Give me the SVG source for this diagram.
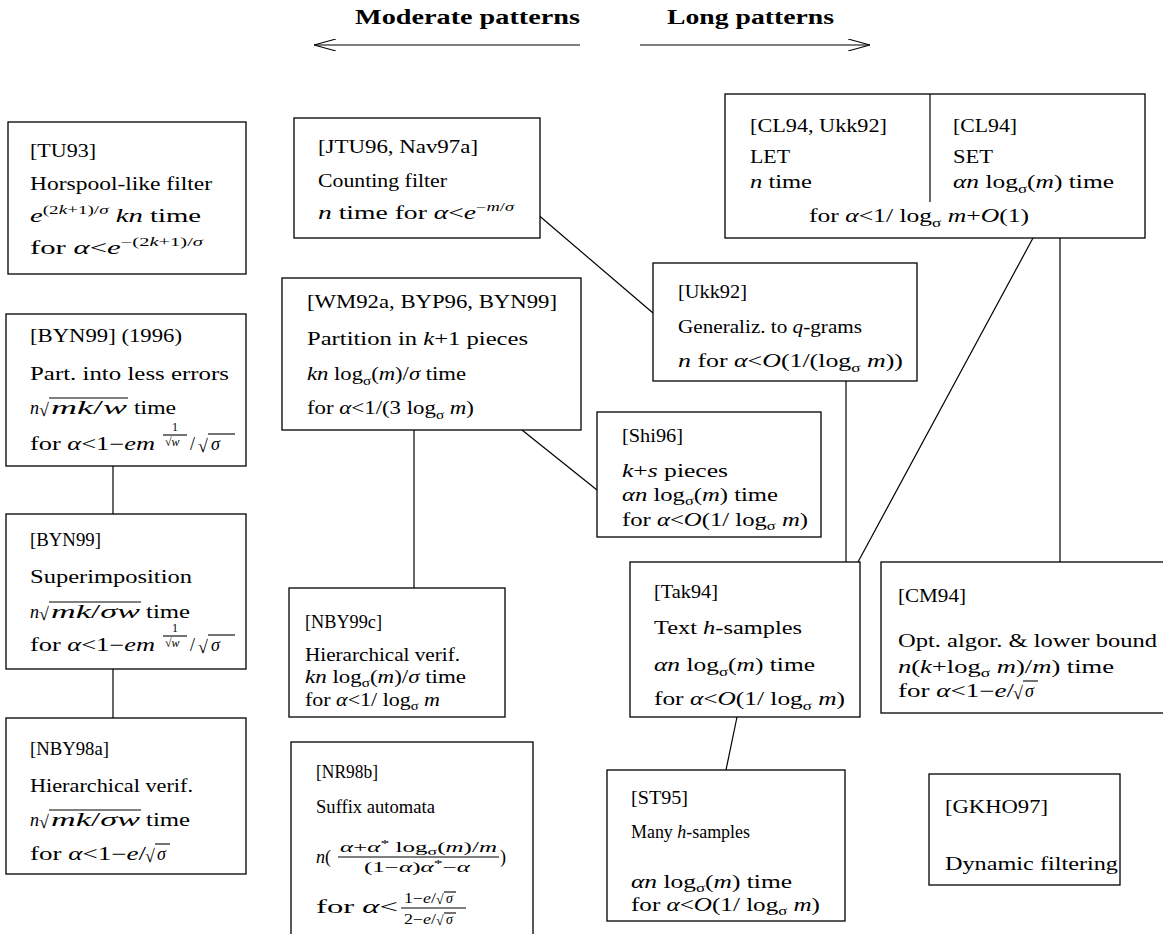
<svg xmlns="http://www.w3.org/2000/svg" width="1163" height="934" viewBox="0 0 1163 934">
<style>
text{font-family:"Liberation Serif",serif;font-size:18px;fill:#000}
.i{font-style:italic}
.sup{font-size:12px}
.sub{font-size:12px}
.sm{font-size:14px}
.h{font-weight:bold;font-size:20px}
.box{fill:#fff;stroke:#000;stroke-width:1.3}
.ln{stroke:#000;stroke-width:1.2;fill:none}
.vin{stroke:#000;stroke-width:1.1}
</style>
<defs>
<marker id="open" viewBox="0 0 22 12" refX="22" refY="6" markerWidth="22" markerHeight="12" markerUnits="userSpaceOnUse" orient="auto">
<path d="M0,0 L22,6 L0,12" fill="none" stroke="#000" stroke-width="1.1"/>
</marker>
</defs>
<rect width="1163" height="934" fill="#fff"/>

<g id="header">
<text class="h" x="355" y="24" textLength="225" lengthAdjust="spacingAndGlyphs">Moderate patterns</text>
<text class="h" x="667" y="24" textLength="167" lengthAdjust="spacingAndGlyphs">Long patterns</text>
<line class="ln" x1="580" y1="45" x2="314" y2="45" marker-end="url(#open)"/>
<line class="ln" x1="640" y1="45" x2="870" y2="45" marker-end="url(#open)"/>
</g>

<g id="connectors">
<line class="ln" x1="536" y1="213" x2="653" y2="313"/>
<line class="ln" x1="1033" y1="238" x2="858" y2="562"/>
<line class="ln" x1="1060" y1="238" x2="1060" y2="562"/>
<line class="ln" x1="846" y1="381" x2="846" y2="562"/>
<line class="ln" x1="522" y1="430" x2="597" y2="490"/>
<line class="ln" x1="414" y1="430" x2="414" y2="588"/>
<line class="ln" x1="113" y1="466" x2="113" y2="514"/>
<line class="ln" x1="113" y1="669" x2="113" y2="718"/>
<line class="ln" x1="737" y1="717" x2="726" y2="770"/>
</g>

<g id="TU93">
<rect class="box" x="8" y="122" width="238" height="152"/>
<text x="30" y="157" textLength="66" lengthAdjust="spacingAndGlyphs">[TU93]</text>
<text x="30" y="190" textLength="182" lengthAdjust="spacingAndGlyphs">Horspool-like filter</text>
<text x="30" y="222" textLength="171" lengthAdjust="spacingAndGlyphs"><tspan class="i">e</tspan><tspan class="sup" dy="-8">(2</tspan><tspan class="sup i">k</tspan><tspan class="sup">+1)/</tspan><tspan class="sup i">σ</tspan><tspan dy="8"> </tspan><tspan class="i">kn</tspan> time</text>
<text x="30" y="254" textLength="173" lengthAdjust="spacingAndGlyphs">for <tspan class="i">α</tspan>&lt;<tspan class="i">e</tspan><tspan class="sup" dy="-8">−(2</tspan><tspan class="sup i">k</tspan><tspan class="sup">+1)/</tspan><tspan class="sup i">σ</tspan></text>
</g>

<g id="JTU96">
<rect class="box" x="294" y="118" width="246" height="120"/>
<text x="318" y="153" textLength="160" lengthAdjust="spacingAndGlyphs">[JTU96, Nav97a]</text>
<text x="318" y="187" textLength="129" lengthAdjust="spacingAndGlyphs">Counting filter</text>
<text x="318" y="219" textLength="196" lengthAdjust="spacingAndGlyphs"><tspan class="i">n</tspan> time for <tspan class="i">α</tspan>&lt;<tspan class="i">e</tspan><tspan class="sup" dy="-8">−</tspan><tspan class="sup i">m</tspan><tspan class="sup">/</tspan><tspan class="sup i">σ</tspan></text>
</g>

<g id="CL94">
<rect class="box" x="725" y="94" width="420" height="144"/>
<line class="ln" x1="930" y1="94" x2="930" y2="202"/>
<text x="750" y="132" textLength="137" lengthAdjust="spacingAndGlyphs">[CL94, Ukk92]</text>
<text x="750" y="163" textLength="40" lengthAdjust="spacingAndGlyphs">LET</text>
<text x="750" y="188" textLength="62" lengthAdjust="spacingAndGlyphs"><tspan class="i">n</tspan> time</text>
<text x="953" y="132" textLength="64" lengthAdjust="spacingAndGlyphs">[CL94]</text>
<text x="953" y="163" textLength="40" lengthAdjust="spacingAndGlyphs">SET</text>
<text x="953" y="188" textLength="161" lengthAdjust="spacingAndGlyphs"><tspan class="i">αn</tspan> log<tspan class="sub" dy="5">σ</tspan><tspan dy="-5">(</tspan><tspan class="i">m</tspan>) time</text>
<text x="809" y="222" textLength="220" lengthAdjust="spacingAndGlyphs">for <tspan class="i">α</tspan>&lt;1/ log<tspan class="sub" dy="5">σ</tspan><tspan dy="-5"> </tspan><tspan class="i">m</tspan>+<tspan class="i">O</tspan>(1)</text>
</g>

<g id="WM92a">
<rect class="box" x="282" y="278" width="299" height="152"/>
<text x="307" y="308" textLength="250" lengthAdjust="spacingAndGlyphs">[WM92a, BYP96, BYN99]</text>
<text x="307" y="345" textLength="221" lengthAdjust="spacingAndGlyphs">Partition in <tspan class="i">k</tspan>+1 pieces</text>
<text x="307" y="380" textLength="159" lengthAdjust="spacingAndGlyphs"><tspan class="i">kn</tspan> log<tspan class="sub" dy="5">σ</tspan><tspan dy="-5">(</tspan><tspan class="i">m</tspan>)/<tspan class="i">σ</tspan> time</text>
<text x="307" y="414" textLength="167" lengthAdjust="spacingAndGlyphs">for <tspan class="i">α</tspan>&lt;1/(3 log<tspan class="sub" dy="5">σ</tspan><tspan dy="-5"> </tspan><tspan class="i">m</tspan>)</text>
</g>

<g id="Ukk92">
<rect class="box" x="653" y="263" width="264" height="118"/>
<text x="678" y="298" textLength="69" lengthAdjust="spacingAndGlyphs">[Ukk92]</text>
<text x="678" y="333" textLength="184" lengthAdjust="spacingAndGlyphs">Generaliz. to <tspan class="i">q</tspan>-grams</text>
<text x="678" y="367" textLength="225" lengthAdjust="spacingAndGlyphs"><tspan class="i">n</tspan> for <tspan class="i">α</tspan>&lt;<tspan class="i">O</tspan>(1/(log<tspan class="sub" dy="5">σ</tspan><tspan dy="-5"> </tspan><tspan class="i">m</tspan>))</text>
</g>

<g id="BYN99a">
<rect class="box" x="6" y="314" width="240" height="152"/>
<text x="30" y="342" textLength="152" lengthAdjust="spacingAndGlyphs">[BYN99] (1996)</text>
<text x="30" y="380" textLength="199" lengthAdjust="spacingAndGlyphs">Part. into less errors</text>
<text class="i" x="30" y="414">n</text>
<text x="39" y="416" font-size="21">√</text>
<line class="vin" x1="49" y1="398" x2="128" y2="398"/>
<text x="51" y="414" textLength="76" lengthAdjust="spacingAndGlyphs"><tspan class="i">mk</tspan>/<tspan class="i">w</tspan></text>
<text x="134" y="414" textLength="42" lengthAdjust="spacingAndGlyphs">time</text>
<text x="30" y="450" textLength="125" lengthAdjust="spacingAndGlyphs">for <tspan class="i">α</tspan>&lt;1−<tspan class="i">em</tspan></text>
<text class="sup" x="175" y="431" text-anchor="middle">1</text>
<line class="vin" x1="163" y1="435" x2="187" y2="435"/>
<text class="sup" x="165" y="446">√<tspan class="i">w</tspan></text>
<text x="190" y="450">/</text>
<text x="198" y="452" font-size="21">√</text>
<line class="vin" x1="208" y1="434" x2="235" y2="434"/>
<text class="i" x="211" y="450">σ</text>
</g>

<g id="Shi96">
<rect class="box" x="597" y="412" width="224" height="125"/>
<text x="622" y="442" textLength="61" lengthAdjust="spacingAndGlyphs">[Shi96]</text>
<text x="622" y="477" textLength="106" lengthAdjust="spacingAndGlyphs"><tspan class="i">k</tspan>+<tspan class="i">s</tspan> pieces</text>
<text x="622" y="501" textLength="156" lengthAdjust="spacingAndGlyphs"><tspan class="i">αn</tspan> log<tspan class="sub" dy="4">σ</tspan><tspan dy="-4">(</tspan><tspan class="i">m</tspan>) time</text>
<text x="622" y="526" textLength="186" lengthAdjust="spacingAndGlyphs">for <tspan class="i">α</tspan>&lt;<tspan class="i">O</tspan>(1/ log<tspan class="sub" dy="4">σ</tspan><tspan dy="-4"> </tspan><tspan class="i">m</tspan>)</text>
</g>

<g id="BYN99b">
<rect class="box" x="6" y="514" width="240" height="155"/>
<text x="30" y="546" textLength="71" lengthAdjust="spacingAndGlyphs">[BYN99]</text>
<text x="30" y="583" textLength="162" lengthAdjust="spacingAndGlyphs">Superimposition</text>
<text class="i" x="30" y="618">n</text>
<text x="39" y="620" font-size="21">√</text>
<line class="vin" x1="49" y1="602" x2="141" y2="602"/>
<text x="51" y="618" textLength="89" lengthAdjust="spacingAndGlyphs"><tspan class="i">mk</tspan>/<tspan class="i">σw</tspan></text>
<text x="146" y="618" textLength="44" lengthAdjust="spacingAndGlyphs">time</text>
<text x="30" y="651" textLength="125" lengthAdjust="spacingAndGlyphs">for <tspan class="i">α</tspan>&lt;1−<tspan class="i">em</tspan></text>
<text class="sup" x="175" y="632" text-anchor="middle">1</text>
<line class="vin" x1="163" y1="636" x2="187" y2="636"/>
<text class="sup" x="165" y="647">√<tspan class="i">w</tspan></text>
<text x="190" y="651">/</text>
<text x="198" y="653" font-size="21">√</text>
<line class="vin" x1="208" y1="635" x2="235" y2="635"/>
<text class="i" x="211" y="651">σ</text>
</g>

<g id="NBY99c">
<rect class="box" x="289" y="588" width="216" height="129"/>
<text x="305" y="628" textLength="77" lengthAdjust="spacingAndGlyphs">[NBY99c]</text>
<text x="305" y="661" textLength="155" lengthAdjust="spacingAndGlyphs">Hierarchical verif.</text>
<text x="305" y="683" textLength="161" lengthAdjust="spacingAndGlyphs"><tspan class="i">kn</tspan> log<tspan class="sub" dy="4">σ</tspan><tspan dy="-4">(</tspan><tspan class="i">m</tspan>)/<tspan class="i">σ</tspan> time</text>
<text x="305" y="706" textLength="135" lengthAdjust="spacingAndGlyphs">for <tspan class="i">α</tspan>&lt;1/ log<tspan class="sub" dy="4">σ</tspan><tspan dy="-4"> </tspan><tspan class="i">m</tspan></text>
</g>

<g id="Tak94">
<rect class="box" x="630" y="562" width="230" height="155"/>
<text x="654" y="598" textLength="64" lengthAdjust="spacingAndGlyphs">[Tak94]</text>
<text x="654" y="634" textLength="148" lengthAdjust="spacingAndGlyphs">Text <tspan class="i">h</tspan>-samples</text>
<text x="654" y="671" textLength="161" lengthAdjust="spacingAndGlyphs"><tspan class="i">αn</tspan> log<tspan class="sub" dy="5">σ</tspan><tspan dy="-5">(</tspan><tspan class="i">m</tspan>) time</text>
<text x="654" y="705" textLength="191" lengthAdjust="spacingAndGlyphs">for <tspan class="i">α</tspan>&lt;<tspan class="i">O</tspan>(1/ log<tspan class="sub" dy="5">σ</tspan><tspan dy="-5"> </tspan><tspan class="i">m</tspan>)</text>
</g>

<g id="CM94">
<rect class="box" x="881" y="562" width="290" height="151"/>
<text x="898" y="602" textLength="68" lengthAdjust="spacingAndGlyphs">[CM94]</text>
<text x="898" y="647" textLength="259" lengthAdjust="spacingAndGlyphs">Opt. algor. &amp; lower bound</text>
<text x="898" y="673" textLength="216" lengthAdjust="spacingAndGlyphs"><tspan class="i">n</tspan>(<tspan class="i">k</tspan>+log<tspan class="sub" dy="4">σ</tspan><tspan dy="-4"> </tspan><tspan class="i">m</tspan>)/<tspan class="i">m</tspan>) time</text>
<text x="898" y="697" textLength="116" lengthAdjust="spacingAndGlyphs">for <tspan class="i">α</tspan>&lt;1−<tspan class="i">e</tspan>/</text>
<text x="1013" y="699" font-size="21">√</text>
<line class="vin" x1="1023" y1="681" x2="1038" y2="681"/>
<text class="i" x="1025" y="697">σ</text>
</g>

<g id="NBY98a">
<rect class="box" x="6" y="718" width="240" height="156"/>
<text x="30" y="755" textLength="79" lengthAdjust="spacingAndGlyphs">[NBY98a]</text>
<text x="30" y="792" textLength="163" lengthAdjust="spacingAndGlyphs">Hierarchical verif.</text>
<text class="i" x="30" y="826">n</text>
<text x="39" y="828" font-size="21">√</text>
<line class="vin" x1="49" y1="810" x2="141" y2="810"/>
<text x="51" y="826" textLength="89" lengthAdjust="spacingAndGlyphs"><tspan class="i">mk</tspan>/<tspan class="i">σw</tspan></text>
<text x="146" y="826" textLength="44" lengthAdjust="spacingAndGlyphs">time</text>
<text x="30" y="860" textLength="116" lengthAdjust="spacingAndGlyphs">for <tspan class="i">α</tspan>&lt;1−<tspan class="i">e</tspan>/</text>
<text x="145" y="862" font-size="21">√</text>
<line class="vin" x1="155" y1="844" x2="170" y2="844"/>
<text class="i" x="157" y="860">σ</text>
</g>

<g id="NR98b">
<rect class="box" x="291" y="742" width="242" height="200"/>
<text x="316" y="778" textLength="62" lengthAdjust="spacingAndGlyphs">[NR98b]</text>
<text x="316" y="813" textLength="119" lengthAdjust="spacingAndGlyphs">Suffix automata</text>
<text x="316" y="863" font-size="20"><tspan class="i">n</tspan>(</text>
<text class="sm" x="340" y="852" textLength="157" lengthAdjust="spacingAndGlyphs"><tspan class="i">α</tspan>+<tspan class="i">α</tspan><tspan font-size="10" dy="-5">*</tspan><tspan dy="5"> log</tspan><tspan font-size="10" dy="3">σ</tspan><tspan dy="-3">(</tspan><tspan class="i">m</tspan>)/<tspan class="i">m</tspan></text>
<line class="vin" x1="338" y1="857" x2="499" y2="857"/>
<text class="sm" x="364" y="872" textLength="106" lengthAdjust="spacingAndGlyphs">(1−<tspan class="i">α</tspan>)<tspan class="i">α</tspan><tspan font-size="10" dy="-5">*</tspan><tspan dy="5">−</tspan><tspan class="i">α</tspan></text>
<text x="500" y="863" font-size="20">)</text>
<text x="316" y="913" textLength="82" lengthAdjust="spacingAndGlyphs">for <tspan class="i">α</tspan>&lt;</text>
<text class="sm" x="404" y="903" textLength="32" lengthAdjust="spacingAndGlyphs">1−<tspan class="i">e</tspan>/</text>
<text class="sm" x="436" y="904">√</text>
<line class="vin" x1="444" y1="892" x2="456" y2="892"/>
<text class="sm i" x="446" y="903">σ</text>
<line class="vin" x1="401" y1="908" x2="466" y2="908"/>
<text class="sm" x="404" y="924" textLength="32" lengthAdjust="spacingAndGlyphs">2−<tspan class="i">e</tspan>/</text>
<text class="sm" x="436" y="925">√</text>
<line class="vin" x1="444" y1="913" x2="456" y2="913"/>
<text class="sm i" x="446" y="924">σ</text>
</g>

<g id="ST95">
<rect class="box" x="607" y="770" width="238" height="151"/>
<text x="631" y="804" textLength="57" lengthAdjust="spacingAndGlyphs">[ST95]</text>
<text x="631" y="838" textLength="119" lengthAdjust="spacingAndGlyphs">Many <tspan class="i">h</tspan>-samples</text>
<text x="631" y="888" textLength="161" lengthAdjust="spacingAndGlyphs"><tspan class="i">αn</tspan> log<tspan class="sub" dy="4">σ</tspan><tspan dy="-4">(</tspan><tspan class="i">m</tspan>) time</text>
<text x="631" y="911" textLength="189" lengthAdjust="spacingAndGlyphs">for <tspan class="i">α</tspan>&lt;<tspan class="i">O</tspan>(1/ log<tspan class="sub" dy="4">σ</tspan><tspan dy="-4"> </tspan><tspan class="i">m</tspan>)</text>
</g>

<g id="GKHO97">
<rect class="box" x="929" y="774" width="191" height="111"/>
<text x="945" y="813" textLength="103" lengthAdjust="spacingAndGlyphs">[GKHO97]</text>
<text x="945" y="870" textLength="173" lengthAdjust="spacingAndGlyphs">Dynamic filtering</text>
</g>
</svg>
